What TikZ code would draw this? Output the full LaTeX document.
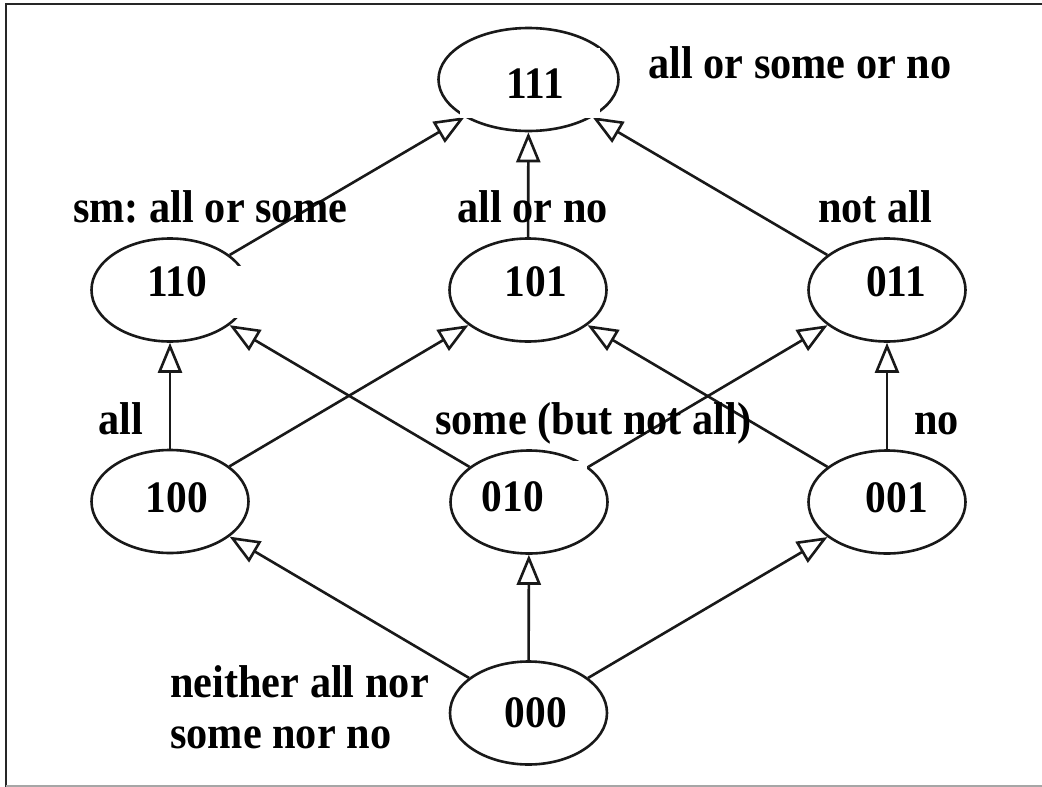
\documentclass[tikz,border=0pt]{standalone}
\usepackage{fontspec}
\setmainfont{Liberation Serif}[FakeStretch=0.92]
\usetikzlibrary{shapes.geometric,arrows.meta}
\frenchspacing
\begin{document}
\begin{tikzpicture}[x=1pt,y=-1pt,
  st/.style={ellipse, draw=black!90, line width=2.6pt, minimum width=157pt, minimum height=103pt, inner sep=0pt},
  num/.style={font=\fontsize{45}{52}\selectfont\bfseries, inner sep=0pt, anchor=base},
  lbl/.style={font=\fontsize{46}{52}\selectfont\bfseries, inner sep=0pt, anchor=base west},
  conn/.style={draw=black!90, line width=2.6pt, -{Triangle[open, length=30pt, width=24pt]}},
  patch/.style={fill=white},
  frameline/.style={draw=black!85, line width=2pt}]
\useasboundingbox (0,0) rectangle (1042,787);
\fill[white] (0,0) rectangle (1042,787);
% frame
\coordinate (fTL) at (6,4);
\coordinate (fTR) at (1042,4);
\coordinate (fBL) at (6,787);
\coordinate (gL) at (6,786);
\coordinate (gR) at (1042,786);
\draw[frameline] (fTR) -- (fTL) -- (fBL);
\draw[black!35, line width=1.5pt] (gL) -- (gR);
% states
\node[st, minimum width=180pt] (n111) at (528.5,79.5) {};
\node[st] (n110) at (170,290) {};
\node[st] (n101) at (528,290) {};
\node[st] (n011) at (887,290) {};
\node[st] (n100) at (170,501.5) {};
\node[st] (n010) at (529,502) {};
\node[st] (n001) at (887,502) {};
\node[st] (n000) at (528.5,713) {};
% connectors
\draw[conn] (n110) -- (n111);
\draw[conn] (n101) -- (n111);
\draw[conn] (n011) -- (n111);
\draw[conn] (n100) -- (n110);
\draw[conn] (n100) -- (n101);
\draw[conn] (n010) -- (n110);
\draw[conn] (n010) -- (n011);
\draw[conn] (n001) -- (n101);
\draw[conn] (n001) -- (n011);
\draw[conn] (n000) -- (n100);
\draw[conn] (n000) -- (n010);
\draw[conn] (n000) -- (n001);
% white patches
\fill[patch] (460,48) rectangle (600,118);
\fill[patch] (112,266) rectangle (250,318);
\fill[patch] (505,461) rectangle (587,535);
% state texts
\node[num] (t111) at (535,98) {111};
\node[num] (t110) at (177,296) {110};
\node[num] (t101) at (536,296) {101};
\node[num] (t011) at (896,296) {011};
\node[num] (t100) at (177,512) {100};
\node[num] (t010) at (513,511) {010};
\node[num] (t001) at (897,512) {001};
\node[num] (t000) at (536,727) {000};
% labels
\node[lbl] (l111) at (648,78) {all or some or no};
\node[lbl] (l110) at (73,222) {sm: all or some};
\node[lbl] (l101) at (457,222) {all or no};
\node[lbl] (l011) at (818,222) {not all};
\node[lbl] (l100) at (98,434) {all};
\node[lbl] (l010) at (435,434) {some (but not all)};
\node[lbl] (l001) at (914,434) {no};
\node[lbl] (l000a) at (170,697) {neither all nor};
\node[lbl] (l000b) at (170,748) {some nor no};
\end{tikzpicture}
\end{document}
